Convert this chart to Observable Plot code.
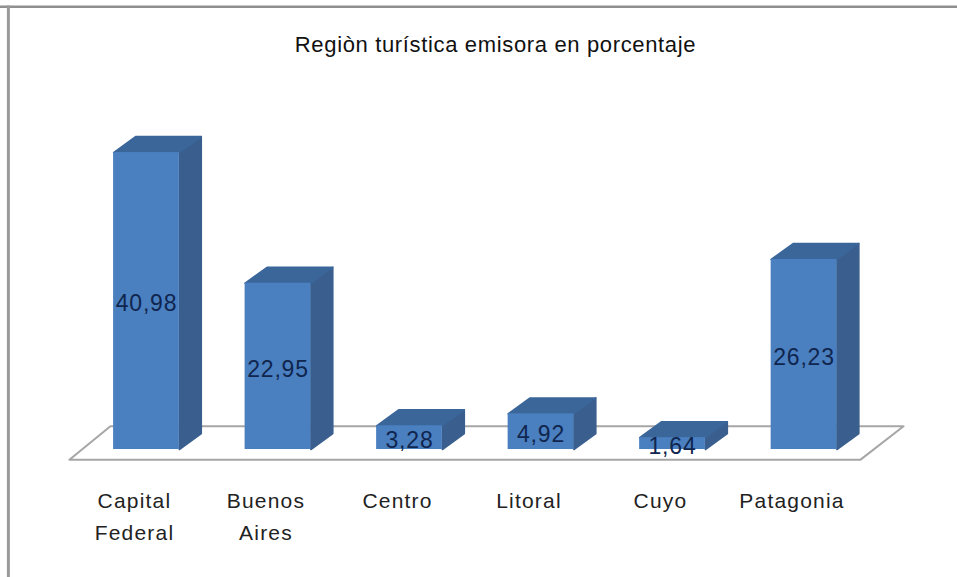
<!DOCTYPE html>
<html>
<head>
<meta charset="utf-8">
<script src="https://cdn.jsdelivr.net/npm/d3@7"></script>
<script src="https://cdn.jsdelivr.net/npm/@observablehq/plot@0.6"></script>
<style>html,body{margin:0;padding:0;background:#fff}svg{display:block}</style>
</head>
<body>
<div id="chart"></div>
<script>
const title = "Regiòn turística emisora en porcentaje";
const categories = ["Capital\nFederal", "Buenos\nAires", "Centro", "Litoral", "Cuyo", "Patagonia"];
const values = [40.98, 22.95, 3.28, 4.92, 1.64, 26.23];
const valueLabels = ["40,98", "22,95", "3,28", "4,92", "1,64", "26,23"];
const slots = [0, 1, 2, 3, 4, 5];

// Perspective of the 3D bars, in scale units
const halfWidth = 0.25, depthX = 0.167, depthY = 2.2;

const rows = slots.map(i => ({i, value: values[i], label: valueLabels[i], cat: categories[i]}));

const side = rows.flatMap(d => [
  [d.i + halfWidth, 0], [d.i + halfWidth + depthX, depthY],
  [d.i + halfWidth + depthX, d.value + depthY], [d.i + halfWidth, d.value], [d.i + halfWidth, 0]
].map(([x, y]) => ({x, y, z: d.i})));

const top3d = rows.flatMap(d => [
  [d.i - halfWidth, d.value], [d.i + halfWidth, d.value],
  [d.i + halfWidth + depthX, d.value + depthY], [d.i - halfWidth + depthX, d.value + depthY],
  [d.i - halfWidth, d.value]
].map(([x, y]) => ({x, y, z: d.i})));

const floorX = [-0.586, 5.43, 5.757, -0.274, -0.586];
const floorY = [-1.4, -1.4, 3.2, 3.2, -1.4];
const floor = floorX.map((x, k) => ({x, y: floorY[k]}));

const chart = Plot.plot({
  width: 957, height: 577,
  margin: 0,
  style: {background: "#fff"},
  x: {domain: [-1.11, 6.167], range: [0, 957], axis: null},
  y: {domain: [-17.66, 61.96], range: [577, 0], axis: null},
  marks: [
    Plot.ruleY([61.1], {stroke: "#8f8f8f", strokeWidth: 2.5}),
    Plot.ruleX([-1.05], {y1: -17.66, y2: 61.2, stroke: "#9a9a9a", strokeWidth: 3}),
    Plot.line(floor, {x: "x", y: "y", stroke: "#a6a6a6", strokeWidth: 2, fill: "#fff"}),
    Plot.line(side, {x: "x", y: "y", z: "z", fill: "#3a5f8e", stroke: "#3a5f8e"}),
    Plot.line(top3d, {x: "x", y: "y", z: "z", fill: "#3b6699", stroke: "#3b6699"}),
    Plot.rect(rows, {x1: d => d.i - halfWidth, x2: d => d.i + halfWidth, y1: 0, y2: "value", fill: "#4a7fc0"}),
    Plot.text(rows, {x: "i", y: d => d.value / 2, text: "label", dy: 3, fontSize: 23, fill: "#10264f", fontFamily: "Liberation Sans"}),
    Plot.text(rows, {x: "i", y: -4.93, text: "cat", dx: -12, fontSize: 21, lineHeight: 1.52, lineAnchor: "top", fill: "#222", fontFamily: "Liberation Sans"}),
    Plot.text([title], {x: [2.654], y: [55.8], text: d => d, fontSize: 22, fill: "#111", fontFamily: "Liberation Sans"})
  ]
});
const textGroups = chart.querySelectorAll('g[aria-label="text"]');
const spacings = ["0.8px", "1.2px", "0.65px"];
textGroups.forEach((g, k) => { g.style.letterSpacing = spacings[k]; });
document.getElementById("chart").appendChild(chart);
</script>
</body>
</html>
